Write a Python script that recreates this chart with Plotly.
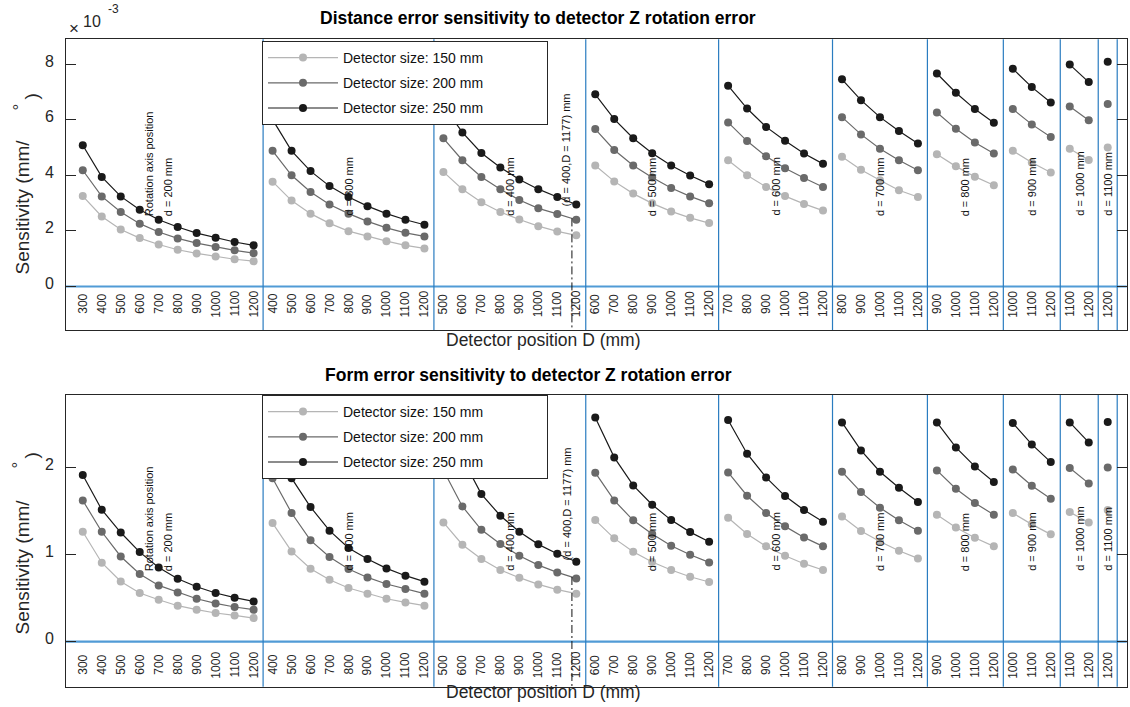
import plotly.graph_objects as go

# ---------------- data ----------------
ROTATION_AXIS_D = [200, 300, 400, 500, 600, 700, 800, 900, 1000, 1100]  # d (mm)
DETECTOR_POS = [
    [300, 400, 500, 600, 700, 800, 900, 1000, 1100, 1200],
    [400, 500, 600, 700, 800, 900, 1000, 1100, 1200],
    [500, 600, 700, 800, 900, 1000, 1100, 1200],
    [600, 700, 800, 900, 1000, 1100, 1200],
    [700, 800, 900, 1000, 1100, 1200],
    [800, 900, 1000, 1100, 1200],
    [900, 1000, 1100, 1200],
    [1000, 1100, 1200],
    [1100, 1200],
    [1200],
]
SERIES_NAMES = ["Detector size: 150 mm", "Detector size: 200 mm", "Detector size: 250 mm"]

# Distance error sensitivity (x 1e-3 mm/deg)
DIST_150 = [
    [3.25, 2.52, 2.05, 1.74, 1.51, 1.32, 1.19, 1.08, 0.98, 0.91],
    [3.77, 3.09, 2.62, 2.27, 1.99, 1.80, 1.63, 1.48, 1.37],
    [4.12, 3.50, 3.03, 2.68, 2.41, 2.17, 1.98, 1.84],
    [4.35, 3.78, 3.34, 2.99, 2.70, 2.47, 2.28],
    [4.54, 4.00, 3.58, 3.25, 2.97, 2.73],
    [4.67, 4.20, 3.82, 3.46, 3.22],
    [4.76, 4.32, 3.95, 3.64],
    [4.88, 4.46, 4.10],
    [4.95, 4.55],
    [5.00],
]
DIST_200 = [
    [4.18, 3.24, 2.68, 2.26, 1.96, 1.73, 1.56, 1.42, 1.30, 1.20],
    [4.88, 4.00, 3.40, 2.95, 2.62, 2.34, 2.11, 1.93, 1.80],
    [5.33, 4.54, 3.94, 3.50, 3.11, 2.81, 2.61, 2.40],
    [5.66, 4.91, 4.35, 3.92, 3.54, 3.24, 2.99],
    [5.90, 5.23, 4.68, 4.25, 3.90, 3.58],
    [6.09, 5.47, 4.95, 4.54, 4.18],
    [6.26, 5.67, 5.18, 4.78],
    [6.38, 5.83, 5.38],
    [6.47, 5.98],
    [6.56],
]
DIST_250 = [
    [5.08, 3.94, 3.24, 2.76, 2.40, 2.14, 1.92, 1.75, 1.60, 1.48],
    [6.00, 4.88, 4.15, 3.61, 3.22, 2.89, 2.62, 2.40, 2.22],
    [6.50, 5.54, 4.80, 4.28, 3.85, 3.50, 3.22, 2.95],
    [6.91, 6.02, 5.33, 4.79, 4.35, 3.99, 3.68],
    [7.22, 6.40, 5.74, 5.24, 4.78, 4.41],
    [7.45, 6.70, 6.09, 5.59, 5.14],
    [7.66, 6.97, 6.38, 5.89],
    [7.83, 7.17, 6.62],
    [7.98, 7.35],
    [8.08],
]

# Form error sensitivity (mm/deg)
FORM_150 = [
    [1.264, 0.908, 0.693, 0.560, 0.483, 0.414, 0.368, 0.330, 0.302, 0.272],
    [1.364, 1.038, 0.839, 0.713, 0.617, 0.552, 0.494, 0.452, 0.414],
    [1.371, 1.115, 0.950, 0.824, 0.736, 0.659, 0.598, 0.552],
    [1.398, 1.188, 1.034, 0.916, 0.824, 0.747, 0.686],
    [1.425, 1.238, 1.096, 0.989, 0.897, 0.824],
    [1.440, 1.272, 1.153, 1.046, 0.958],
    [1.460, 1.314, 1.195, 1.096],
    [1.479, 1.349, 1.234],
    [1.490, 1.371],
    [1.513],
]
FORM_200 = [
    [1.624, 1.264, 0.980, 0.778, 0.647, 0.567, 0.494, 0.440, 0.399, 0.368],
    [1.880, 1.480, 1.165, 0.973, 0.835, 0.739, 0.663, 0.605, 0.552],
    [1.970, 1.555, 1.287, 1.123, 0.989, 0.881, 0.797, 0.728],
    [1.943, 1.624, 1.395, 1.238, 1.103, 1.000, 0.912],
    [1.946, 1.678, 1.479, 1.326, 1.199, 1.096],
    [1.954, 1.720, 1.540, 1.395, 1.276],
    [1.969, 1.759, 1.594, 1.460],
    [1.981, 1.793, 1.644],
    [1.996, 1.820],
    [2.004],
]
FORM_250 = [
    [1.916, 1.517, 1.255, 1.030, 0.854, 0.724, 0.632, 0.560, 0.506, 0.463],
    [2.450, 1.880, 1.548, 1.276, 1.077, 0.950, 0.843, 0.759, 0.690],
    [2.600, 2.110, 1.697, 1.448, 1.264, 1.119, 1.011, 0.920],
    [2.578, 2.119, 1.797, 1.575, 1.398, 1.260, 1.149],
    [2.548, 2.161, 1.889, 1.674, 1.513, 1.379],
    [2.521, 2.199, 1.954, 1.770, 1.606],
    [2.521, 2.233, 2.015, 1.835],
    [2.513, 2.268, 2.065],
    [2.521, 2.291],
    [2.525],
]

DIST_YTICKS = [0, 2, 4, 6, 8]
FORM_YTICKS = [0, 1, 2]

MARK_D = 400      # rotation axis position of marked configuration
MARK_DPOS = 1177  # detector position of marked configuration

DIST_TITLE = "Distance error sensitivity to detector Z rotation error"
FORM_TITLE = "Form error sensitivity to detector Z rotation error"
X_TITLE = "Detector position D (mm)"

# ---------------- styling / geometry ----------------
W, H = 1130, 707
FONT = "Liberation Sans, Arial, Helvetica, sans-serif"
AX_COL = "#262626"
SERIES_COLORS = ["#b5b5b5", "#6a6a6a", "#1a1a1a"]
BLUE_V = "#2a7cc0"
BLUE_H = "#519bd6"
LEFT_PX, RIGHT_PX = 65.7, 1126.7
PANELS_PX = [(39.3, 330.0), (395.0, 686.7)]


def px(xp):
    return xp / W


def py(yp):
    return 1 - yp / H


# index positions of every point
x_groups = []
boundaries = []
i = 1
for grp in DETECTOR_POS:
    x_groups.append(list(range(i, i + len(grp))))
    i += len(grp)
    boundaries.append(i - 0.5)
X_RANGE = [0.1, 56.0]
x_span = X_RANGE[1] - X_RANGE[0]
px_per_idx = (RIGHT_PX - LEFT_PX) / x_span


def flat(gx, gy):
    X, Y = [], []
    for a, b in zip(gx, gy):
        X += list(a) + [None]
        Y += list(b) + [None]
    return X, Y


panels = [
    dict(xa="x", ya="y", series=[DIST_150, DIST_200, DIST_250], legend="legend",
         yrange=[-1.565, 8.89], tickvals=DIST_YTICKS,
         tick_lbl_y=304, grp_lbl_y=218, mark_lbl_y=208, title=DIST_TITLE,
         title_y=18, title_x=538, xlab_y=340,
         ylab_bottom=277, deg=(18.5, 107), par=(31.5, 97), leg_top=41),
    dict(xa="x2", ya="y2", series=[FORM_150, FORM_200, FORM_250], legend="legend2",
         yrange=[-0.517, 2.836], tickvals=FORM_YTICKS,
         tick_lbl_y=665, grp_lbl_y=573, mark_lbl_y=562, title=FORM_TITLE,
         title_y=375, title_x=528, xlab_y=692,
         ylab_bottom=637, deg=(18.5, 465), par=(31.5, 456), leg_top=395),
]

fig = go.Figure()
shapes = []
annotations = []

# locate the marked configuration on the index axis
mark_g = ROTATION_AXIS_D.index(MARK_D)
mark_grp = DETECTOR_POS[mark_g]
k0 = max(j for j, d in enumerate(mark_grp) if d < MARK_DPOS)
t = (MARK_DPOS - mark_grp[k0]) / (mark_grp[k0 + 1] - mark_grp[k0])
x_mark = x_groups[mark_g][k0] + t

for p in panels:
    for s, (vals, name, col) in enumerate(zip(p["series"], SERIES_NAMES, SERIES_COLORS)):
        X, Y = flat(x_groups, vals)
        fig.add_trace(go.Scatter(
            x=X, y=Y, xaxis=p["xa"], yaxis=p["ya"], mode="lines+markers",
            name=name + "\u00a0" * 15, legend=p["legend"], legendgroup=p["legend"] + str(s),
            line=dict(color=col, width=1.2),
            marker=dict(color=col, size=8, line=dict(width=0)),
            connectgaps=False, hoverinfo="skip",
        ))
    yref_dom = p["ya"] + " domain"
    # zero line
    shapes.append(dict(type="line", xref=p["xa"] + " domain", x0=0, x1=1, yref=p["ya"], y0=0, y1=0,
                       line=dict(color=BLUE_H, width=2.2), layer="below"))
    # group separators
    for b in boundaries:
        shapes.append(dict(type="line", xref=p["xa"], x0=b, x1=b, yref=yref_dom, y0=0, y1=1,
                           line=dict(color=BLUE_V, width=1.2), layer="below"))
    # dash-dot marker line at D = MARK_DPOS (starting at the 200 mm curve)
    mid = p["series"][1][mark_g]
    y_start = mid[k0] + t * (mid[k0 + 1] - mid[k0])
    shapes.append(dict(type="line", xref=p["xa"], x0=x_mark, x1=x_mark, yref=p["ya"],
                       y0=y_start, y1=p["yrange"][0],
                       line=dict(color="#111111", width=1, dash="8px,3px,2px,3px")))
    # y tick labels
    for v in p["tickvals"]:
        annotations.append(dict(x=px(56), xref="paper", y=v, yref=p["ya"], text=str(v),
                                showarrow=False, xanchor="right", yanchor="middle", yshift=3,
                                font=dict(size=16, color=AX_COL, family=FONT)))
    # x tick labels inside the axes
    for gx, gd in zip(x_groups, DETECTOR_POS):
        for xv, dv in zip(gx, gd):
            annotations.append(dict(x=xv, xref=p["xa"], y=py(p["tick_lbl_y"]), yref="paper",
                                    text=str(dv), textangle=-90, showarrow=False,
                                    xanchor="center", yanchor="middle",
                                    font=dict(size=12, color=AX_COL, family=FONT)))
    # group labels
    for g, (gx, dd) in enumerate(zip(x_groups, ROTATION_AXIS_D)):
        cx = (gx[0] + gx[-1]) / 2
        annotations.append(dict(x=cx, xref=p["xa"], y=py(p["grp_lbl_y"]), yref="paper",
                                text=f"d = {dd} mm", textangle=-90, showarrow=False,
                                xanchor="center", yanchor="bottom",
                                font=dict(size=11, color="#111111", family=FONT)))
        if g == 0:
            annotations.append(dict(x=cx - 19.5 / px_per_idx, xref=p["xa"], y=py(p["grp_lbl_y"]), yref="paper",
                                    text="Rotation axis position", textangle=-90, showarrow=False,
                                    xanchor="center", yanchor="bottom",
                                    font=dict(size=11, color="#111111", family=FONT)))
    annotations.append(dict(x=x_mark - 5 / px_per_idx, xref=p["xa"], y=py(p["mark_lbl_y"]), yref="paper",
                            text=f"(d = {MARK_D},D = {MARK_DPOS}) mm", textangle=-90, showarrow=False,
                            xanchor="center", yanchor="bottom",
                            font=dict(size=11, color="#111111", family=FONT)))
    # titles
    annotations.append(dict(x=px(p["title_x"]), y=py(p["title_y"]), xref="paper", yref="paper",
                            text="<b>" + p["title"] + "</b>", showarrow=False,
                            xanchor="center", yanchor="middle",
                            font=dict(size=17.5, color="#000000", family=FONT)))
    annotations.append(dict(x=px(543.5), y=py(p["xlab_y"]), xref="paper", yref="paper",
                            text=X_TITLE, showarrow=False, xanchor="center", yanchor="middle",
                            font=dict(size=17.5, color=AX_COL, family=FONT)))
    # y label pieces
    annotations.append(dict(x=px(22), y=py(p["ylab_bottom"]), xref="paper", yref="paper",
                            text="Sensitivity (mm/", textangle=-90, showarrow=False,
                            xanchor="center", yanchor="bottom",
                            font=dict(size=19, color=AX_COL, family=FONT)))
    annotations.append(dict(x=px(p["deg"][0]), y=py(p["deg"][1]), xref="paper", yref="paper",
                            text="°", textangle=-90, showarrow=False,
                            xanchor="center", yanchor="middle",
                            font=dict(size=17, color=AX_COL, family=FONT)))
    annotations.append(dict(x=px(p["par"][0]), y=py(p["par"][1]), xref="paper", yref="paper",
                            text=")", textangle=-90, showarrow=False,
                            xanchor="center", yanchor="middle",
                            font=dict(size=19, color=AX_COL, family=FONT)))

# exponent label
annotations.append(dict(x=px(74), y=py(29), xref="paper", yref="paper", text="×", showarrow=False,
                        xanchor="center", yanchor="middle", font=dict(size=17, color=AX_COL, family=FONT)))
annotations.append(dict(x=px(92), y=py(21), xref="paper", yref="paper", text="10", showarrow=False,
                        xanchor="center", yanchor="middle", font=dict(size=16, color=AX_COL, family=FONT)))
annotations.append(dict(x=px(113), y=py(9), xref="paper", yref="paper", text="-3", showarrow=False,
                        xanchor="center", yanchor="middle", font=dict(size=12, color=AX_COL, family=FONT)))

xaxis_common = dict(range=X_RANGE, domain=[px(LEFT_PX), px(RIGHT_PX)], showline=True, linecolor=AX_COL,
                    linewidth=1, mirror=True, showticklabels=False, ticks="", showgrid=False, zeroline=False)


def yaxis_cfg(p):
    top, bot = PANELS_PX[panels.index(p)]
    return dict(range=p["yrange"], domain=[py(bot), py(top)], tickvals=p["tickvals"],
                showticklabels=False, ticks="inside", ticklen=10, tickwidth=1,
                tickcolor=AX_COL, showline=True, linecolor=AX_COL, linewidth=1, mirror="ticks",
                showgrid=False, zeroline=False)


def legend_cfg(p):
    return dict(x=px(262), y=py(p["leg_top"]), xanchor="left", yanchor="top", bgcolor="white",
                bordercolor=AX_COL, borderwidth=1, font=dict(size=14, color="#111111", family=FONT),
                tracegroupgap=4, itemwidth=70, traceorder="grouped")


fig.update_layout(
    width=W, height=H, margin=dict(l=0, r=0, t=0, b=0),
    paper_bgcolor="white", plot_bgcolor="white",
    font=dict(family=FONT, color=AX_COL),
    xaxis=dict(anchor="y", **xaxis_common),
    xaxis2=dict(anchor="y2", **xaxis_common),
    yaxis=dict(anchor="x", **yaxis_cfg(panels[0])),
    yaxis2=dict(anchor="x2", **yaxis_cfg(panels[1])),
    legend=legend_cfg(panels[0]),
    legend2=legend_cfg(panels[1]),
    shapes=shapes,
    annotations=annotations,
    showlegend=True,
)

fig.write_html("out.html")
